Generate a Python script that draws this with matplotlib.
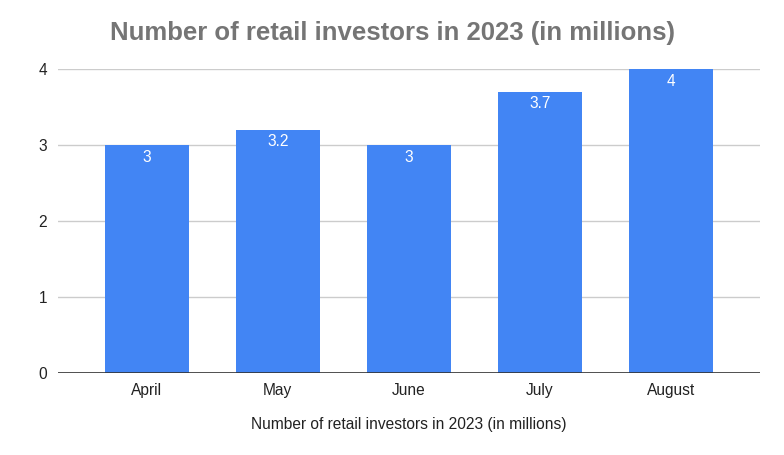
import matplotlib
matplotlib.use("Agg")
import matplotlib.pyplot as plt

months = ["April", "May", "June", "July", "August"]
investors = [3, 3.2, 3, 3.7, 4]
yticks = [0, 1, 2, 3, 4]

plt.rcParams["font.family"] = ["Liberation Sans", "DejaVu Sans"]

fig = plt.figure(figsize=(7.84, 4.55), dpi=100)
ax = fig.add_axes([0.074, 0.180, 0.895, 0.668])

x = range(len(months))
bars = ax.bar(x, investors, width=0.64, color="#4285F4", zorder=3)

# value labels sit inside the top of each bar
for rect, val in zip(bars, investors):
    ax.annotate(f"{val:g}", (rect.get_x() + rect.get_width() / 2, rect.get_height()),
                xytext=(0, -12), textcoords="offset pixels",
                ha="center", va="center", color="white", fontsize=11.2)

ax.set_xlim(-0.675, 4.675)
ax.set_ylim(0, 4)
ax.set_yticks(yticks)
ax.set_xticks(list(x))
ax.set_xticklabels(months)
ax.yaxis.grid(True, color="#cccccc", linewidth=1, zorder=0)
ax.axhline(0, color="#333333", linewidth=1.2, zorder=4)
for s in ax.spines.values():
    s.set_visible(False)
ax.tick_params(axis="both", length=0, labelsize=11.2, colors="#222222")
ax.tick_params(axis="y", pad=8)
ax.tick_params(axis="x", pad=7)

ax.set_xlabel("Number of retail investors in 2023 (in millions)", fontsize=11.2,
              color="#222222", labelpad=14)
fig.text(0.5, 1 - 33 / 455, "Number of retail investors in 2023 (in millions)",
         ha="center", va="center", fontsize=18.5, fontweight="bold", color="#757575")

fig.savefig("out.png", dpi=100)
